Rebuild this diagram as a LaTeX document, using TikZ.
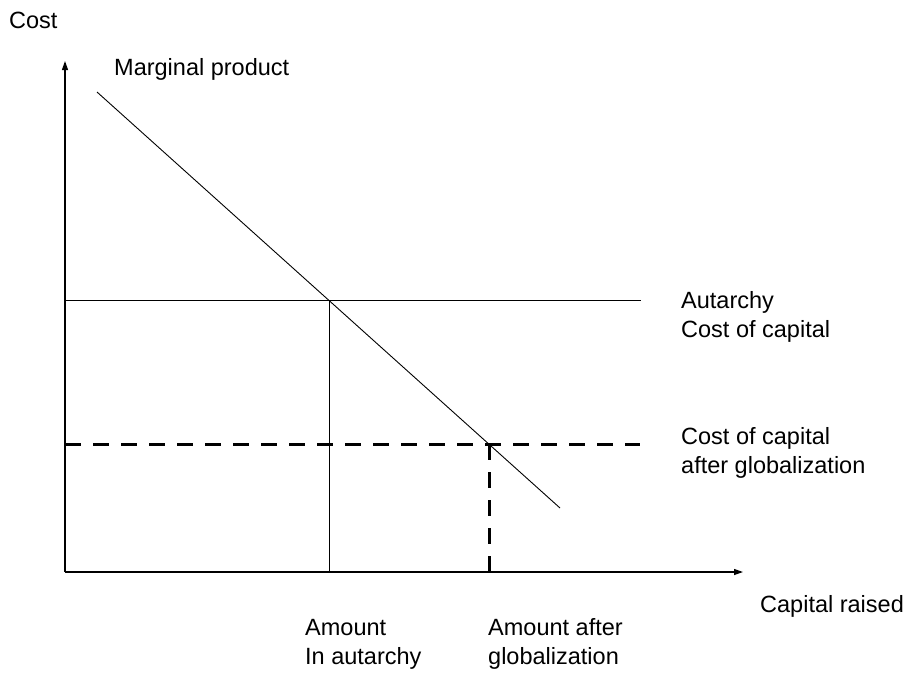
\documentclass[tikz,border=0pt]{standalone}
\usepackage{fontspec}
\setmainfont{Liberation Sans}
\usetikzlibrary{arrows.meta}
\begin{document}
\begin{tikzpicture}[x=1pt,y=-1pt,
  lbl/.style={anchor=base west,inner sep=0pt,align=left,font=\fontsize{23.5}{29}\selectfont},
  axis/.style={line width=1.2pt,-{Triangle[length=9pt,width=6pt]}},
  thin/.style={line width=0.9pt},
  dashline/.style={line width=3pt,dash pattern=on 16pt off 12pt}]
\useasboundingbox (0,0) rectangle (910,673);
\coordinate (O) at (65,572);
\coordinate (ytip) at (65,61);
\coordinate (xtip) at (743,572);
\coordinate (mpA) at (97,92);
\coordinate (mpB) at (560,508);
\coordinate (aL) at (65,300);
\coordinate (aR) at (641,300);
\coordinate (aX) at (329,300);
\coordinate (aB) at (329,572);
\coordinate (gL) at (65,444);
\coordinate (gR) at (640,444);
\coordinate (gX) at (489,444);
\coordinate (gB) at (489,572);
\draw[axis] (O) -- (ytip);
\draw[axis] (O) -- (xtip);
\draw[thin] (mpA) -- (mpB);
\draw[thin] (aL) -- (aR);
\draw[thin] (aX) -- (aB);
\draw[dashline] (gL) -- (gR);
\draw[dashline] (gX) -- (gB);
\node[lbl] (cost) at (9,28) {Cost};
\node[lbl] (mp) at (114,75) {Marginal product};
\node[lbl] (aut) at (681,337) {Autarchy\\Cost of capital};
\node[lbl] (glob) at (681,473) {Cost of capital\\after globalization};
\node[lbl] (cap) at (760,612) {Capital raised};
\node[lbl] (amt1) at (305,664) {Amount\\In autarchy};
\node[lbl] (amt2) at (488,664) {Amount after\\globalization};
\end{tikzpicture}
\end{document}
